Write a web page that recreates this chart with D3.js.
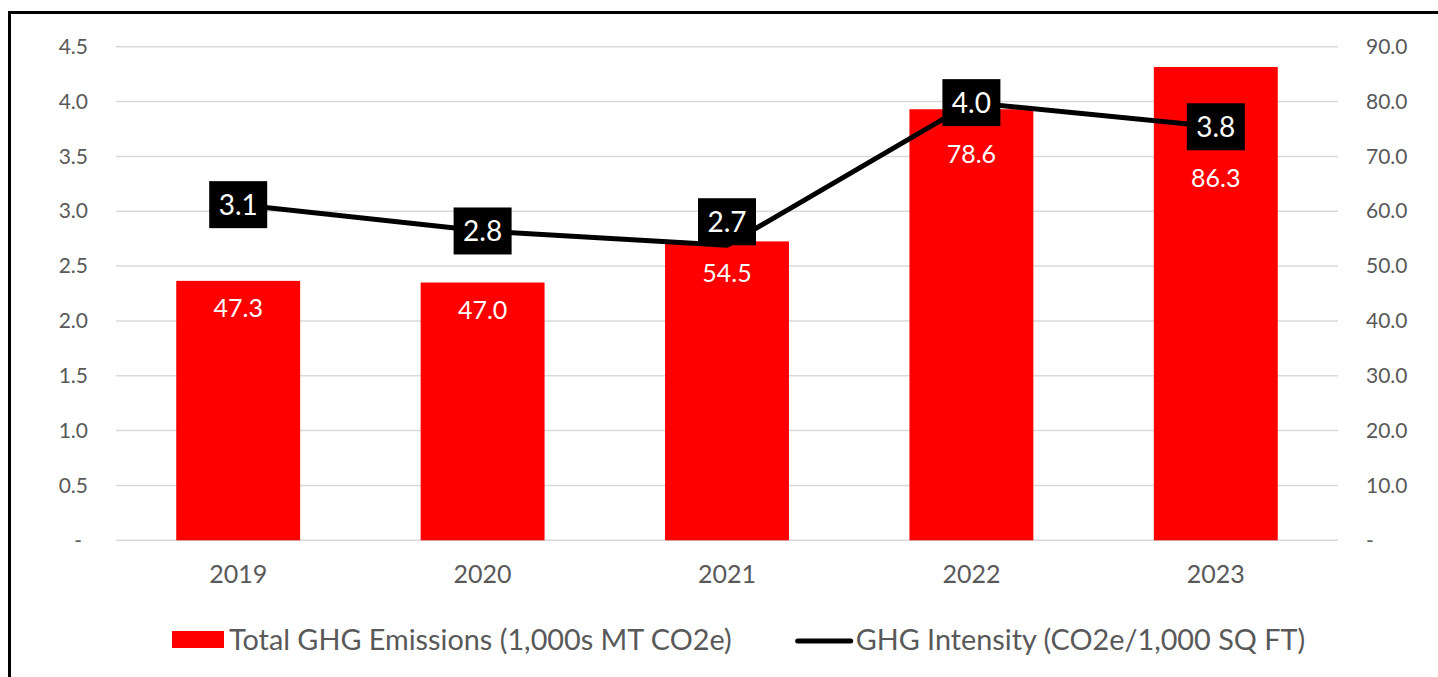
<!DOCTYPE html>
<html>
<head>
<meta charset="utf-8">
<script src="https://cdn.jsdelivr.net/npm/d3@7"></script>
<style>
  html, body { margin: 0; padding: 0; background: #fff; }
  svg { display: block; font-family: Lato, "Open Sans", sans-serif; }
</style>
</head>
<body>
<svg id="chart" width="1438" height="677"></svg>
<script>
// chart values
const years = ['2019', '2020', '2021', '2022', '2023'];
const totalEmissions = [47.3, 47.0, 54.5, 78.6, 86.3];      // 1,000s MT CO2e (right axis)
const intensity = [3.06, 2.82, 2.69, 3.99, 3.77];           // CO2e / 1,000 sq ft (left axis)
const leftTicks = [0, 0.5, 1, 1.5, 2, 2.5, 3, 3.5, 4, 4.5];
const rightTicks = [0, 10, 20, 30, 40, 50, 60, 70, 80, 90];
const seriesNames = ['Total GHG Emissions (1,000s MT CO2e)', 'GHG Intensity (CO2e/1,000 SQ FT)'];
// excel style label placement for the intensity labels
const intensityLabelPlacement = ['center', 'center', 'above', 'center', 'center'];

const
  svg = d3.select('#chart'),
  plot = {left: 116, right: 1338, top: 46.7, bottom: 540.3},
  red = '#ff0000',
  grey = '#595959',
  boxW = 58,
  boxH = 47
  ;

const x = d3.scaleBand()
  .domain(years)
  .range([plot.left, plot.right])
  .paddingInner(0.493)
  .paddingOuter(0.2465)
  ;
const yLeft = d3.scaleLinear().domain([0, 4.5]).range([plot.bottom, plot.top]);
const yRight = d3.scaleLinear().domain([0, 90]).range([plot.bottom, plot.top]);
const cx = d => x(d) + x.bandwidth() / 2;
const tickFmt = d => d === 0 ? '-' : d3.format('.1f')(d);

// outer frame (runs off the right and bottom edge like the reference)
svg.append('rect')
  .attr('x', 9.5).attr('y', 12.5)
  .attr('width', 1500).attr('height', 700)
  .attr('fill', 'none')
  .attr('stroke', '#000')
  .attr('stroke-width', 3)
  ;

// gridlines
svg.append('g')
  .selectAll('line')
  .data(leftTicks)
  .join('line')
  .attr('x1', plot.left).attr('x2', plot.right)
  .attr('y1', d => yLeft(d)).attr('y2', d => yLeft(d))
  .attr('stroke', '#d9d9d9')
  .attr('stroke-width', 1.5)
  ;

// left axis
const leftAxis = svg.append('g')
  .attr('transform', `translate(${plot.left},0)`)
  .call(d3.axisLeft(yLeft).tickValues(leftTicks).tickFormat(tickFmt).tickSize(0).tickPadding(28))
  ;
leftAxis.select('.domain').remove();
leftAxis.selectAll('text')
  .attr('fill', grey)
  .style('font-size', '21px')
  .style('font-family', 'Lato')
  .attr('dx', d => d === 0 ? -6 : 0)
  ;

// right axis
const rightAxis = svg.append('g')
  .attr('transform', `translate(${plot.right},0)`)
  .call(d3.axisRight(yRight).tickValues(rightTicks).tickFormat(tickFmt).tickSize(0).tickPadding(28))
  ;
rightAxis.select('.domain').remove();
rightAxis.selectAll('text')
  .attr('fill', grey)
  .style('font-size', '21px')
  .style('font-family', 'Lato')
  ;

// x axis labels
const xAxis = svg.append('g')
  .attr('transform', `translate(0,${plot.bottom})`)
  .call(d3.axisBottom(x).tickSize(0).tickPadding(25))
  ;
xAxis.select('.domain').remove();
xAxis.selectAll('text')
  .attr('fill', grey)
  .style('font-size', '25px')
  .style('font-family', 'Lato')
  ;

// bars
svg.append('g')
  .selectAll('rect')
  .data(years)
  .join('rect')
  .attr('x', d => x(d))
  .attr('width', x.bandwidth())
  .attr('y', (d, i) => yRight(totalEmissions[i]))
  .attr('height', (d, i) => plot.bottom - yRight(totalEmissions[i]))
  .attr('fill', red)
  ;

// intensity line
const line = d3.line()
  .x((d, i) => cx(years[i]))
  .y(d => yLeft(d))
  ;
svg.append('path')
  .datum(intensity)
  .attr('d', line)
  .attr('fill', 'none')
  .attr('stroke', '#000')
  .attr('stroke-width', 5)
  .attr('stroke-linejoin', 'round')
  ;

// intensity label boxes
const boxCenter = intensity.map((v, i) =>
  intensityLabelPlacement[i] === 'above' ? yLeft(v) - boxH / 2 : yLeft(v)
);
const boxes = svg.append('g')
  .selectAll('g')
  .data(intensity)
  .join('g')
  .attr('transform', (d, i) => `translate(${cx(years[i])},${boxCenter[i]})`)
  ;
boxes.append('rect')
  .attr('x', -boxW / 2).attr('y', -boxH / 2)
  .attr('width', boxW).attr('height', boxH)
  .attr('fill', '#000')
  ;
boxes.append('text')
  .attr('text-anchor', 'middle')
  .attr('dy', '0.36em')
  .attr('fill', '#fff')
  .style('font-size', '28px')
  .text(d => d3.format('.1f')(d))
  ;

// bar value labels: inside the bar top, pushed below the intensity box when they would meet
svg.append('g')
  .selectAll('text')
  .data(totalEmissions)
  .join('text')
  .attr('x', (d, i) => cx(years[i]))
  .attr('y', (d, i) => Math.max(yRight(d) + 27, boxCenter[i] + boxH / 2 + 28))
  .attr('dy', '0.36em')
  .attr('text-anchor', 'middle')
  .attr('fill', '#fff')
  .style('font-size', '25px')
  .text(d => d3.format('.1f')(d))
  ;

// legend
const legend = svg.append('g').attr('transform', 'translate(172,640)');
legend.append('rect')
  .attr('x', 0).attr('y', -9)
  .attr('width', 52).attr('height', 17)
  .attr('fill', red)
  ;
const firstText = legend.append('text')
  .attr('x', 57)
  .attr('dy', '0.36em')
  .attr('fill', grey)
  .style('font-size', '28.8px')
  .text(seriesNames[0])
  ;
const secondStart = 57 + firstText.node().getComputedTextLength() + 64;
legend.append('line')
  .attr('x1', secondStart + 2).attr('x2', secondStart + 55)
  .attr('y1', 1).attr('y2', 1)
  .attr('stroke', '#000')
  .attr('stroke-width', 5)
  .attr('stroke-linecap', 'round')
  ;
legend.append('text')
  .attr('x', secondStart + 60)
  .attr('dy', '0.36em')
  .attr('fill', grey)
  .style('font-size', '28.8px')
  .text(seriesNames[1])
  ;
</script>
</body>
</html>
